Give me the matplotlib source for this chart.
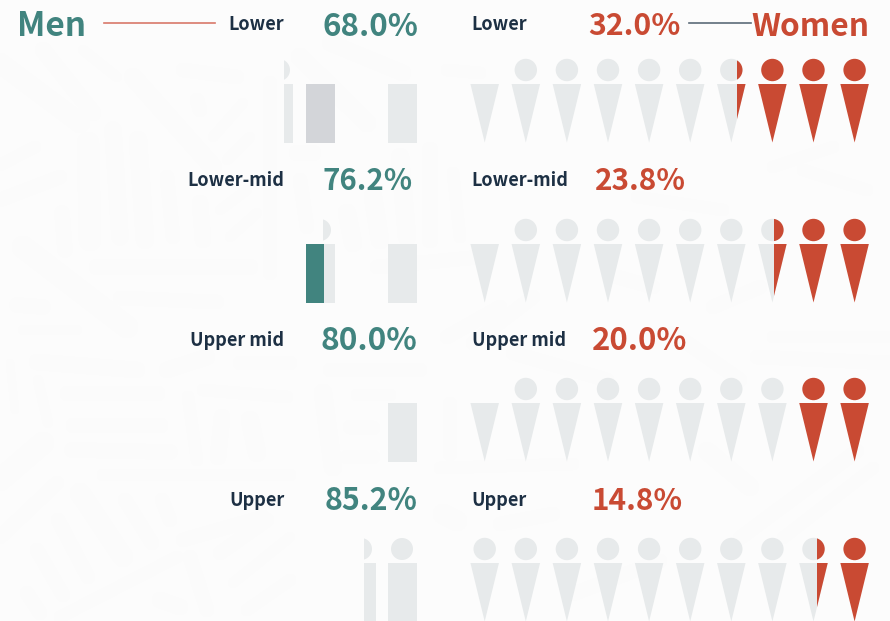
import numpy as np
from matplotlib import pyplot as plt
from matplotlib.patches import Circle, Polygon, Rectangle
from matplotlib.collections import LineCollection

plt.rcParams['font.family'] = ['Noto Sans CJK SC', 'DejaVu Sans']

# values
income_groups = ['Lower', 'Lower-mid', 'Upper mid', 'Upper']
men_share = [68.0, 76.2, 80.0, 85.2]
women_share = [32.0, 23.8, 20.0, 14.8]
# red icons on the right of each row, as drawn (the split icon is not exact to the share)
women_icons = [3.31, 2.43, 2.0, 1.36]
# which women icons have a head (first one is hidden in the top three rows)
first_head = [1, 1, 1, 0]

TEAL = '#41847f'
RED = '#c94a33'
GREY = '#e7eaeb'
DARK_GREY = '#d3d5d9'
NAVY = '#1d3044'
BG = '#fcfcfc'
STROKE = '#fbfbfb'

# faint background pattern: x1, y1, x2, y2, width in px
bg_strokes = [
    (0, 63, 80, 123, 20), (43, 50, 93, 113, 16), (83, 50, 117, 77, 10),
    (133, 77, 213, 167, 18), (183, 70, 237, 77, 14), (243, 103, 213, 137, 10),
    (197, 100, 200, 110, 14), (250, 137, 227, 160, 10), (88, 143, 90, 240, 22),
    (113, 130, 120, 237, 17), (138, 140, 145, 240, 18), (167, 177, 173, 237, 14),
    (200, 203, 203, 240, 16), (62, 213, 65, 250, 15), (257, 213, 230, 237, 10),
    (247, 190, 220, 210, 10), (0, 165, 35, 147, 12), (0, 200, 60, 177, 14),
    (270, 83, 270, 273, 14), (23, 247, 127, 327, 22), (97, 267, 250, 267, 16),
    (120, 298, 217, 302, 14), (17, 305, 43, 307, 15), (23, 330, 77, 330, 10),
    (37, 362, 137, 370, 16), (67, 393, 157, 393, 15), (73, 425, 160, 425, 15),
    (72, 450, 170, 452, 15), (38, 380, 48, 423, 10), (10, 363, 15, 410, 8),
    (43, 443, 0, 480, 22), (57, 483, 0, 537, 14), (80, 493, 123, 557, 20),
    (125, 500, 152, 543, 14), (162, 500, 170, 520, 14), (58, 520, 88, 577, 14),
    (37, 550, 63, 595, 14), (27, 593, 40, 613, 14), (60, 617, 177, 557, 12),
    (190, 557, 207, 610, 14), (160, 600, 180, 607, 16), (188, 397, 197, 460, 12),
    (222, 417, 218, 457, 16), (250, 420, 257, 453, 18), (103, 475, 290, 475, 12),
    (203, 390, 287, 397, 12), (167, 370, 207, 357, 16), (240, 363, 290, 363, 14),
    (263, 517, 183, 540, 14), (220, 553, 267, 520, 14), (233, 583, 290, 537, 10),
    (247, 610, 290, 580, 12),
    # middle and right
    (300, 57, 367, 123, 18), (330, 43, 403, 73, 16), (297, 153, 313, 153, 16),
    (447, 70, 480, 73, 12), (300, 180, 307, 227, 14), (347, 213, 353, 243, 18),
    (373, 197, 380, 240, 18), (400, 157, 407, 237, 18), (430, 150, 430, 240, 16),
    (453, 173, 460, 237, 12), (377, 267, 480, 257, 14), (330, 370, 420, 370, 14),
    (357, 395, 390, 395, 12), (350, 427, 373, 428, 14), (347, 457, 373, 457, 14),
    (323, 393, 333, 467, 18), (450, 404, 450, 454, 14), (440, 468, 573, 464, 12),
    (773, 167, 833, 147, 12), (803, 170, 867, 190, 12), (637, 197, 723, 210, 12),
    (713, 307, 760, 287, 14), (617, 277, 653, 287, 14), (500, 307, 447, 337, 14),
    (533, 297, 473, 343, 14), (773, 337, 890, 337, 12), (757, 357, 890, 363, 14),
    (513, 353, 607, 380, 14), (673, 333, 740, 380, 14), (707, 451, 750, 487, 18),
    (740, 538, 857, 451, 14), (783, 538, 873, 468, 12), (443, 514, 457, 521, 20),
    (500, 524, 553, 514, 14), (573, 594, 660, 561, 14),
]

# layout, in pixels
row_top = [84, 244, 403, 563]
text_y = [23, 178, 338, 498]
men_pct_x = [322, 322, 320.5, 325]
women_pct_x = [588, 595, 592, 592]
# the original font has different digit widths, so sizes differ a bit per label
men_pct_size = [22.5, 21.2, 22.8, 21.9]
women_pct_size = [21.7, 21.4, 22.4, 21.4]
icon_x = [484.7, 525.8, 566.9, 608.0, 649.1, 690.2, 731.3, 772.4, 813.5, 854.6]
ICON_W = 28.5
ICON_H = 58.5

fig = plt.figure(figsize=(8.9, 6.21), dpi=100, facecolor=BG)
ax = fig.add_axes([0, 0, 1, 1])
ax.set_xlim(0, 890)
ax.set_ylim(621, 0)
ax.axis('off')

segs = [[(s[0], s[1]), (s[2], s[3])] for s in bg_strokes]
# px to pt is 0.72 at dpi 100
widths = [s[4] * 0.72 for s in bg_strokes]
ax.add_collection(LineCollection(segs, colors=STROKE, linewidths=widths, capstyle='round', zorder=1))


def icon(cx, top, color, head=True, clip=None):
    parts = [Polygon([(cx - ICON_W / 2, top), (cx + ICON_W / 2, top), (cx, top + ICON_H)],
                     closed=True, fc=color, ec='none', zorder=3)]
    if head:
        parts.append(Circle((cx, top - 14), 11.2, fc=color, ec='none', zorder=3))
    for p in parts:
        ax.add_patch(p)
        if clip is not None:
            p.set_clip_path(clip)


for i, label in enumerate(income_groups):
    top = row_top[i]

    # labels and percentages
    ax.text(284.5, text_y[i], label, ha='right', va='center_baseline', fontsize=13, fontweight='bold', color=NAVY, zorder=5)
    ax.text(471.5, text_y[i], label, ha='left', va='center_baseline', fontsize=13, fontweight='bold', color=NAVY, zorder=5)
    ax.text(men_pct_x[i], text_y[i], '%.1f%%' % men_share[i], ha='left', va='center_baseline', fontsize=men_pct_size[i], fontweight='bold', color=TEAL, zorder=5)
    ax.text(women_pct_x[i], text_y[i], '%.1f%%' % women_share[i], ha='left', va='center_baseline', fontsize=women_pct_size[i], fontweight='bold', color=RED, zorder=5)

    # women icons, filled from the right
    n_full = int(women_icons[i])
    frac = women_icons[i] - n_full
    for j, cx in enumerate(icon_x):
        head = j >= first_head[i]
        from_right = len(icon_x) - 1 - j
        if from_right < n_full:
            icon(cx, top, RED, head)
        else:
            icon(cx, top, GREY, head)
            if from_right == n_full and frac > 0:
                clip = Rectangle((cx + ICON_W / 2 - frac * ICON_W, top - 30), frac * ICON_W, ICON_H + 40,
                                 transform=ax.transData)
                icon(cx, top, RED, head, clip)

    # men side, only the right hand column is complete
    ax.add_patch(Rectangle((388, top), 29, ICON_H, fc=GREY, ec='none', zorder=3))

# men side remains, differ by row
ax.add_patch(Rectangle((284, row_top[0]), 9, ICON_H, fc=GREY, ec='none', zorder=3))
ax.add_patch(Rectangle((306, row_top[0]), 29, ICON_H, fc=DARK_GREY, ec='none', zorder=3))
head1 = Circle((279, row_top[0] - 14), 11, fc=GREY, ec='none', zorder=3)
ax.add_patch(head1)
head1.set_clip_path(Rectangle((284, 50), 20, 40, transform=ax.transData))

ax.add_patch(Rectangle((306, row_top[1]), 18, ICON_H, fc=TEAL, ec='none', zorder=3))
ax.add_patch(Rectangle((324, row_top[1]), 11, ICON_H, fc=GREY, ec='none', zorder=3))
head2 = Circle((320, row_top[1] - 14), 11, fc=GREY, ec='none', zorder=3)
ax.add_patch(head2)
head2.set_clip_path(Rectangle((323, 210), 20, 40, transform=ax.transData))

ax.add_patch(Rectangle((364, row_top[3]), 12, ICON_H, fc=GREY, ec='none', zorder=3))
head3 = Circle((361, row_top[3] - 14), 11, fc=GREY, ec='none', zorder=3)
ax.add_patch(head3)
head3.set_clip_path(Rectangle((364, 530), 20, 40, transform=ax.transData))
ax.add_patch(Circle((402, row_top[3] - 14), 11, fc=GREY, ec='none', zorder=3))

# header
ax.text(17.5, 23, 'Men', ha='left', va='center_baseline', fontsize=24, fontweight='bold', color=TEAL, zorder=5)
ax.text(869, 23, 'Women', ha='right', va='center_baseline', fontsize=22.8, fontweight='bold', color=RED, zorder=5)
ax.plot([104, 215], [23, 23], color='#d9786a', lw=1.2, zorder=4)
ax.plot([689, 751], [23, 23], color='#5c6b78', lw=1.2, zorder=4)

plt.savefig('out.png', dpi=100, facecolor=BG)
